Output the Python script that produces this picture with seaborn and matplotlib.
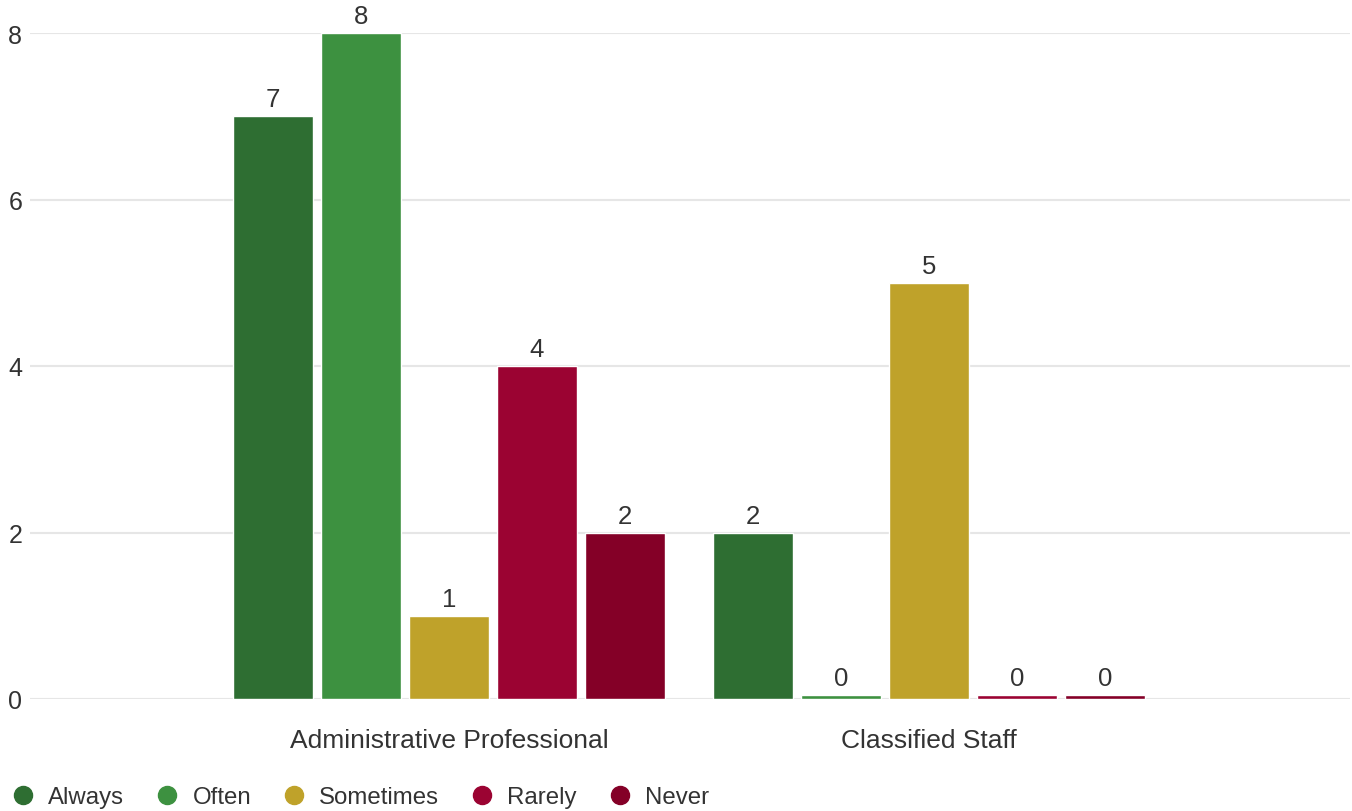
import pandas as pd
import matplotlib.pyplot as plt
import seaborn as sns
from matplotlib.lines import Line2D

# chart data
groups = ["Administrative Professional", "Classified Staff"]
answers = ["Always", "Often", "Sometimes", "Rarely", "Never"]
admin_counts = [7, 8, 1, 4, 2]
classified_counts = [2, 0, 5, 0, 0]
colors = ["#2e6e32", "#3d9140", "#bfa22a", "#9b0332", "#840027"]

df = pd.DataFrame({
    "group": [groups[0]] * 5 + [groups[1]] * 5,
    "answer": answers * 2,
    "count": admin_counts + classified_counts,
})

sns.set_style("white")
plt.rcParams["font.family"] = ["Liberation Sans", "DejaVu Sans"]
text_color = "#333333"

fig = plt.figure(figsize=(13.52, 8.12), dpi=100)
ax = fig.add_axes([30 / 1352, 112 / 812, 1320 / 1352, 666 / 812])

sns.barplot(data=df, x="group", y="count", hue="answer", order=groups,
            hue_order=answers, palette=colors, width=0.9167, gap=0.09,
            saturation=1, legend=False, ax=ax)

# zero-count bars still get a thin sliver, like in the original
for patch in ax.patches:
    if patch.get_height() == 0:
        patch.set_height(0.05)

for container in ax.containers:
    labels = [f"{v:.0f}" for v in container.datavalues]
    ax.bar_label(container, labels=labels, padding=3.5, fontsize=18.5,
                 color=text_color, clip_on=False)

ax.set_ylim(0, 8)
ax.set_xlim(-0.873, 1.877)
ax.set_yticks([0, 2, 4, 6, 8])
ax.yaxis.grid(True, color="#e6e6e6", linewidth=1.5)
ax.set_axisbelow(True)
for side in ["top", "right", "left", "bottom"]:
    ax.spines[side].set_visible(False)
ax.tick_params(axis="y", length=0, labelsize=18, labelcolor=text_color, pad=5.5)
ax.tick_params(axis="x", length=0, labelsize=19, labelcolor=text_color, pad=21)
ax.set_xlabel("")
ax.set_ylabel("")

handles = [Line2D([], [], marker="o", linestyle="", markersize=13,
                  markerfacecolor=c, markeredgecolor=c) for c in colors]
fig.legend(handles, answers, loc="center left", bbox_to_anchor=(15 / 1352, 1 - 798 / 812),
           ncol=5, frameon=False, fontsize=17.3, labelcolor=text_color,
           handlelength=0.7, handletextpad=0.69, columnspacing=1.44, borderpad=0,
           borderaxespad=0)

fig.savefig("out.png", dpi=100)
